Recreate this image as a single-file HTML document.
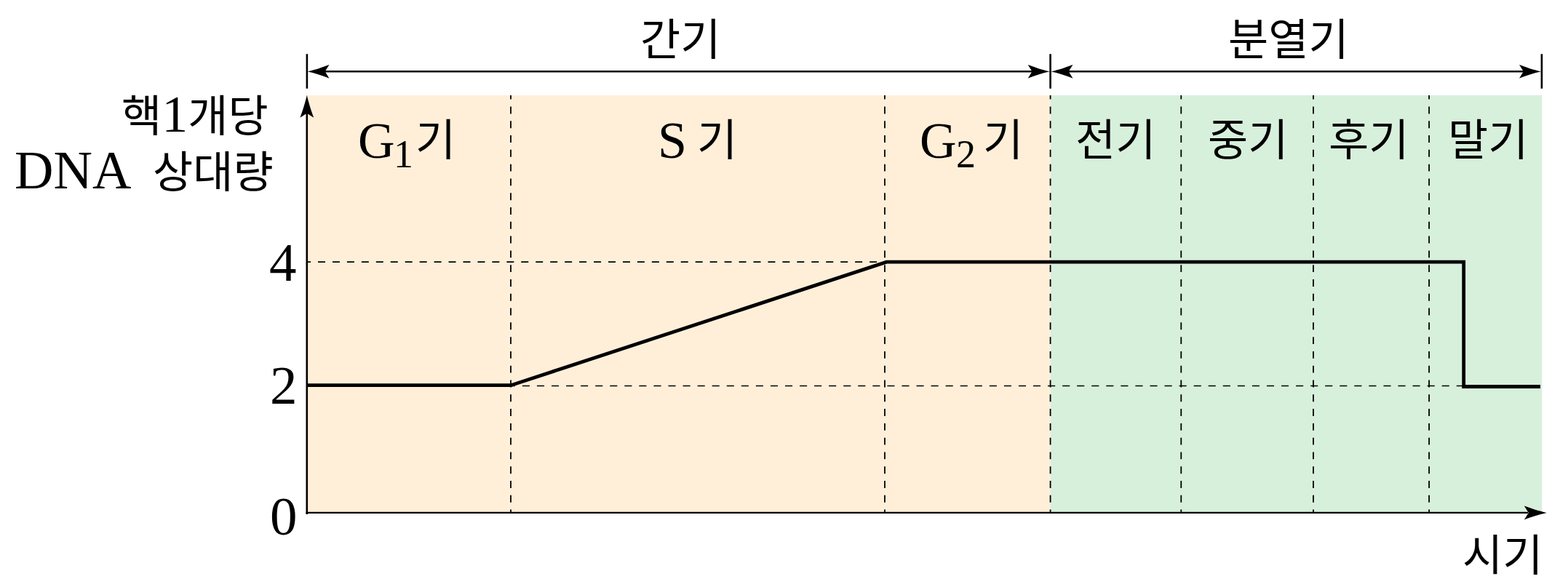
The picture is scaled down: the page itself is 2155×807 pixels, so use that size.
<!DOCTYPE html>
<html lang="ko"><head><meta charset="utf-8"><title>세포 주기와 DNA 상대량</title>
<style>
html,body{margin:0;padding:0;background:#fff;}
body{width:2155px;height:807px;overflow:hidden;font-family:"Liberation Sans",sans-serif;}
svg{display:block;}
svg text{font-family:"Liberation Serif","Noto Sans CJK KR",serif;}
</style></head><body>
<svg width="2155" height="807" viewBox="0 0 2155 807" role="img" aria-label="세포 주기에 따른 핵 1개당 DNA 상대량 그래프">
<rect x="421.9" y="131.0" width="1021.6999999999999" height="573.8" fill="#FFEFD8"/>
<rect x="1443.6" y="131.0" width="675.6000000000001" height="573.8" fill="#D7F0DC"/>
<path d="M702.0 131.0V704.8" stroke="#000" stroke-width="1.8" stroke-dasharray="9.9 9.89" stroke-dashoffset="4.29" fill="none"/>
<path d="M1216.0 131.0V704.8" stroke="#000" stroke-width="1.8" stroke-dasharray="9.9 9.89" stroke-dashoffset="4.29" fill="none"/>
<path d="M1443.6 131.0V704.8" stroke="#000" stroke-width="1.8" stroke-dasharray="9.9 9.89" stroke-dashoffset="4.29" fill="none"/>
<path d="M1623.3 131.0V704.8" stroke="#000" stroke-width="1.8" stroke-dasharray="9.9 9.89" stroke-dashoffset="4.29" fill="none"/>
<path d="M1805.0 131.0V704.8" stroke="#000" stroke-width="1.8" stroke-dasharray="9.9 9.89" stroke-dashoffset="4.29" fill="none"/>
<path d="M1964.1 131.0V704.8" stroke="#000" stroke-width="1.8" stroke-dasharray="9.9 9.89" stroke-dashoffset="4.29" fill="none"/>
<path d="M421.9 360.1H1216" stroke="#000" stroke-width="1.8" stroke-dasharray="10 9.95" stroke-dashoffset="4.85" fill="none"/>
<path d="M697.84 530.5H2011" stroke="#000" stroke-width="1.4" stroke-dasharray="10.1 9.96" fill="none"/>
<path d="M421.8 150V706.9" stroke="#000" stroke-width="2.6" fill="none"/>
<path d="M420.5 704.9H2100" stroke="#000" stroke-width="2.3" fill="none"/>
<path d="M0 0C-10.85 -2.35 -23.25 -6.58 -31 -9.4L-25 0L-31 9.4C-23.25 6.58 -10.85 2.35 0 0Z" transform="translate(421.8 130.8) rotate(-90)" fill="#000"/>
<path d="M0 0C-10.85 -2.35 -23.25 -6.58 -31 -9.4L-25 0L-31 9.4C-23.25 6.58 -10.85 2.35 0 0Z" transform="translate(2125.8 705.0) rotate(0)" fill="#000"/>
<path d="M421.9 74.2V121.7M1443.6 74.2V121.7M2118.9 74.2V121.7" stroke="#000" stroke-width="2.6" fill="none"/>
<path d="M441.9 98.3H1423.6M1463.6 98.3H2098.9" stroke="#000" stroke-width="2.6" fill="none"/>
<path d="M0 0C-10.50 -2.35 -22.50 -6.58 -30.0 -9.4L-24.2 0L-30.0 9.4C-22.50 6.58 -10.50 2.35 0 0Z" transform="translate(422.5 98.3) rotate(180)" fill="#000"/>
<path d="M0 0C-10.50 -2.35 -22.50 -6.58 -30.0 -9.4L-24.2 0L-30.0 9.4C-22.50 6.58 -10.50 2.35 0 0Z" transform="translate(1442.6999999999998 98.3) rotate(0)" fill="#000"/>
<path d="M0 0C-10.50 -2.35 -22.50 -6.58 -30.0 -9.4L-24.2 0L-30.0 9.4C-22.50 6.58 -10.50 2.35 0 0Z" transform="translate(1444.5 98.3) rotate(180)" fill="#000"/>
<path d="M0 0C-10.50 -2.35 -22.50 -6.58 -30.0 -9.4L-24.2 0L-30.0 9.4C-22.50 6.58 -10.50 2.35 0 0Z" transform="translate(2118.0 98.3) rotate(0)" fill="#000"/>
<path d="M421.9 529.7H702.2L1218.4 360.1H2011.7V531.5H2117" stroke="#000" stroke-width="4.8" fill="none" stroke-linejoin="miter"/>
<g fill="#000" stroke="none">
<g aria-label="간기"><text x="880" y="76" font-size="60">간기</text></g>
<g aria-label="분열기"><text x="1688" y="76" font-size="60">분열기</text></g>
<g aria-label="핵1개당"><text x="167" y="181" font-size="60">핵<tspan font-size="72">1</tspan>개당</text></g>
<g aria-label="DNA 상대량"><text x="20" y="259" font-size="74">DNA</text><text x="210" y="258" font-size="60">상대량</text></g>
<g aria-label="G1기"><text font-size="60"><tspan x="492" y="217" font-size="70">G</tspan><tspan x="541" y="230" font-size="54">1</tspan><tspan x="571" y="214">기</tspan></text></g>
<g aria-label="S기"><text font-size="60"><tspan x="904" y="217" font-size="72">S</tspan><tspan x="958" y="214">기</tspan></text></g>
<g aria-label="G2기"><text font-size="60"><tspan x="1264" y="217" font-size="70">G</tspan><tspan x="1314" y="230" font-size="54">2</tspan><tspan x="1351" y="214">기</tspan></text></g>
<g aria-label="전기"><text x="1478" y="214" font-size="60">전기</text></g>
<g aria-label="중기"><text x="1660" y="214" font-size="60">중기</text></g>
<g aria-label="후기"><text x="1826" y="214" font-size="60">후기</text></g>
<g aria-label="말기"><text x="1990" y="214" font-size="60">말기</text></g>
<g aria-label="4"><text x="370" y="386" font-size="75">4</text></g>
<g aria-label="2"><text x="371" y="555" font-size="75">2</text></g>
<g aria-label="0"><text x="371" y="735" font-size="75">0</text></g>
<g aria-label="시기"><text x="2010" y="785" font-size="60">시기</text></g>
</g>
</svg>
</body></html>
